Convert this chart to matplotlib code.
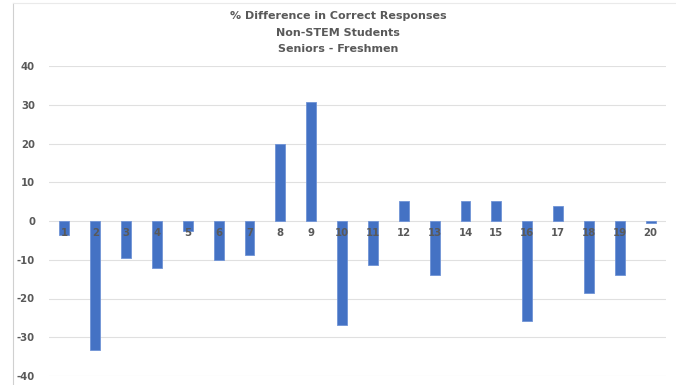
import numpy as np
import matplotlib
matplotlib.use("Agg")
import matplotlib.pyplot as plt
from matplotlib.lines import Line2D

# question numbers and % difference (seniors minus freshmen)
questions = [str(q) for q in range(1, 21)]
diff = [-3.7, -33.3, -9.5, -12.0, -2.5, -10.1, -8.9, 19.8, 30.8, -26.9,
        -11.4, 5.1, -14.0, 5.1, 5.1, -25.7, 3.9, -18.5, -14.0, -0.6]
yticks = [-40, -30, -20, -10, 0, 10, 20, 30, 40]

txt_color = "#595959"
grid_color = "#E0E0E0"

fig = plt.figure(figsize=(6.76, 3.85), dpi=100)
ax = fig.add_axes([49/676, 1 - 376/385, 617/676, 310/385])

x = np.arange(len(questions))
ax.bar(x, diff, width=0.32, color="#4472C4", edgecolor="#6F93D6", linewidth=0.6, zorder=2)

ax.set_xlim(-0.5, len(questions) - 0.5)
ax.set_ylim(-40, 40)
ax.set_yticks(yticks)
ax.set_yticklabels([str(t) for t in yticks], fontsize=7.3, fontweight="bold", color=txt_color)
ax.grid(axis="y", color=grid_color, linewidth=0.8)
ax.set_axisbelow(True)

# category labels sit on the zero line, over the bars
ax.spines["bottom"].set_position(("data", 0))
ax.spines["bottom"].set_visible(False)
ax.set_xticks(x)
ax.set_xticklabels(questions, fontsize=7.3, fontweight="bold", color=txt_color)
ax.xaxis.set_zorder(3)
ax.tick_params(axis="both", length=0)
ax.tick_params(axis="x", pad=5)
ax.tick_params(axis="y", pad=10)
for s in ["top", "right", "left"]:
    ax.spines[s].set_visible(False)

fig.text(0.5, 1 - 16/385, "% Difference in Correct Responses", ha="center", va="center",
         fontsize=8, fontweight="bold", color=txt_color)
fig.text(0.5, 1 - 33/385, "Non-STEM Students", ha="center", va="center",
         fontsize=8, fontweight="bold", color=txt_color)
fig.text(0.5, 1 - 49.5/385, "Seniors - Freshmen", ha="center", va="center",
         fontsize=8, fontweight="bold", color=txt_color)

# chart frame edges
fig.add_artist(Line2D([12.5/676, 12.5/676], [0, 1 - 3/385], transform=fig.transFigure,
                      color="#D0D0D0", linewidth=0.8))
fig.add_artist(Line2D([12.5/676, 1], [1 - 3/385, 1 - 3/385], transform=fig.transFigure,
                      color="#EAEAEA", linewidth=0.8))

fig.savefig("out.png", dpi=100)
